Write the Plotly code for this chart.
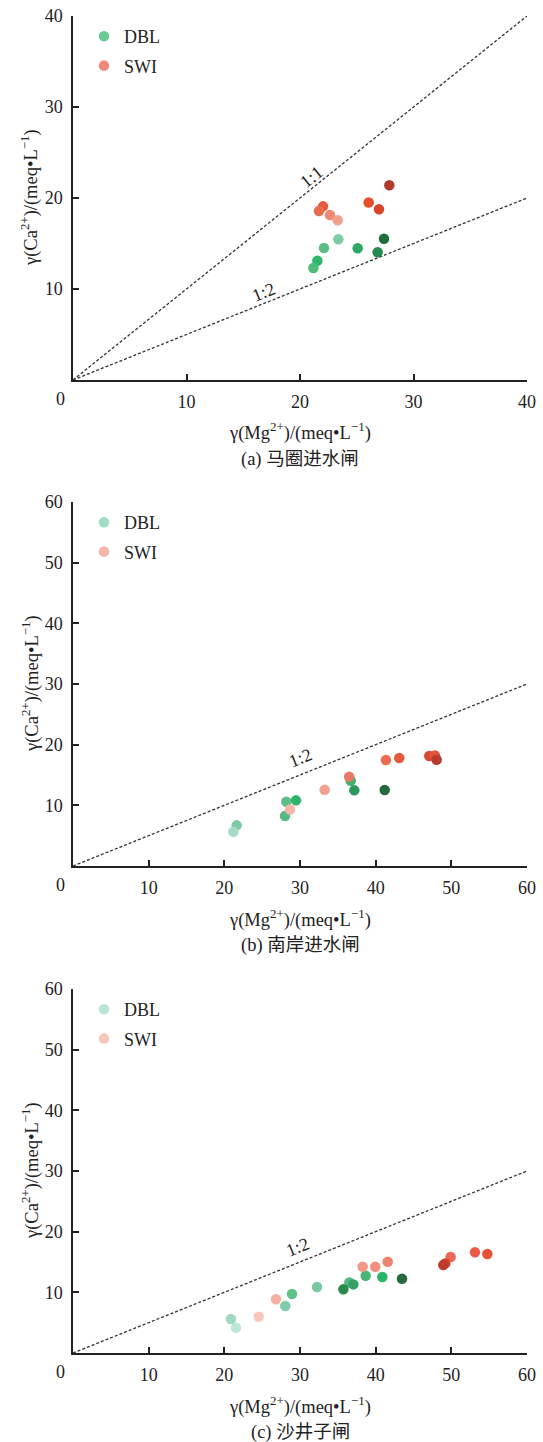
import math
import plotly.graph_objects as go

# ---- panel (a) 马圈进水闸 ----
a_dbl_x = [23.38, 22.11, 21.53, 21.18, 25.08, 26.84, 27.40]
a_dbl_y = [15.46, 14.50, 13.11, 12.31, 14.47, 14.03, 15.53]
a_dbl_c = ["#7DCCA2", "#5BBF85", "#2DB56A", "#4CBC7A", "#2EA862", "#258A4E", "#1F6E3E"]
a_swi_x = [27.87, 26.05, 26.96, 22.03, 21.67, 22.64, 23.32]
a_swi_y = [21.40, 19.50, 18.76, 19.08, 18.57, 18.13, 17.55]
a_swi_c = ["#B23A2E", "#E5502C", "#D7432B", "#E55A3E", "#EA6A50", "#EE8A74", "#F2A08C"]

# ---- panel (b) 南岸进水闸 ----
b_dbl_x = [21.63, 21.19, 28.19, 29.47, 28.02, 36.70, 37.18, 41.19]
b_dbl_y = [6.70, 5.65, 10.60, 10.82, 8.24, 14.06, 12.47, 12.52]
b_dbl_c = ["#7BCBA6", "#A6DCC6", "#5CC087", "#2EB468", "#55BB7E", "#40B070", "#2A9A58", "#246A3E"]
b_swi_x = [28.68, 33.26, 36.50, 41.36, 43.12, 47.08, 47.84, 48.06]
b_swi_y = [9.32, 12.57, 14.70, 17.46, 17.79, 18.12, 18.23, 17.51]
b_swi_c = ["#F4B6A8", "#F0A090", "#E57A66", "#EE6A50", "#E55A3E", "#D84A30", "#E0553A", "#B83A2E"]

# ---- panel (c) 沙井子闸 ----
c_dbl_x = [20.88, 21.54, 28.06, 28.94, 32.25, 36.52, 37.05, 35.73, 38.68, 40.88, 43.48]
c_dbl_y = [5.60, 4.17, 7.74, 9.72, 10.87, 11.64, 11.31, 10.49, 12.74, 12.52, 12.25]
c_dbl_c = ["#A0D8C0", "#C0E6D6", "#80CCA8", "#60C088", "#78C8A0", "#55B880", "#38A066",
           "#2A8A50", "#48B478", "#2AB468", "#246A3E"]
c_swi_x = [24.54, 26.83, 38.28, 39.95, 41.59, 49.91, 49.20, 48.94, 53.12, 54.76]
c_swi_y = [5.98, 8.85, 14.22, 14.22, 15.04, 15.82, 14.77, 14.50, 16.59, 16.31]
c_swi_c = ["#F8C8BA", "#F4B0A4", "#F09888", "#F09080", "#EE8470", "#EA6A55", "#D24030",
           "#C03A30", "#E85A45", "#E55038"]

# legend swatch colours per panel
legend_dbl = ["#6BC996", "#A0DCC4", "#B8E6D6"]
legend_swi = ["#EE8A78", "#F4B3A6", "#F7C5BA"]

# reference ratio lines (Ca : Mg) and where their labels sit (data units)
ratio_lines = [[("1:1", 1.0), ("1:2", 0.5)], [("1:2", 0.5)], [("1:2", 0.5)]]
ratio_label_pos = [[(21.0, 22.3), (16.8, 9.7)], [(30.0, 17.8)], [(29.7, 17.5)]]
axis_max = [40, 60, 60]
ticks = [[10, 20, 30, 40], [10, 20, 30, 40, 50, 60], [10, 20, 30, 40, 50, 60]]
captions = ["(a) 马圈进水闸", "(b) 南岸进水闸", "(c) 沙井子闸"]

W, H = 543, 1442
X0, X1 = 73, 527                      # plot area, px
Y_TOP = [16, 502, 989]
Y_BOT = [380, 866, 1353]

FONT = "Liberation Serif, Noto Sans CJK SC, serif"
TXT = "#222222"
FS = 18
FS_TITLE = 18.5

panels = [
    (a_dbl_x, a_dbl_y, a_dbl_c, a_swi_x, a_swi_y, a_swi_c),
    (b_dbl_x, b_dbl_y, b_dbl_c, b_swi_x, b_swi_y, b_swi_c),
    (c_dbl_x, c_dbl_y, c_dbl_c, c_swi_x, c_swi_y, c_swi_c),
]

fig = go.Figure()
annotations = []
layout_axes = {}


def px_x(p):
    return p / W


def px_y(p):
    return 1 - p / H


def paper_text(x, y, text, angle=0, size=FS_TITLE):
    return dict(x=px_x(x), y=px_y(y), xref="paper", yref="paper",
                xanchor="center", yanchor="middle", text=text,
                showarrow=False, textangle=angle,
                font=dict(family=FONT, size=size, color=TXT))


for i, (dx, dy, dc, sx, sy, sc) in enumerate(panels):
    n = "" if i == 0 else str(i + 1)
    xa, ya = "x" + n, "y" + n
    leg = "legend" + n
    m = axis_max[i]

    # dotted ratio lines through the origin
    for label, r in ratio_lines[i]:
        fig.add_trace(go.Scatter(
            x=[0, m], y=[0, r * m], xaxis=xa, yaxis=ya, mode="lines",
            line=dict(color="#333333", width=1.3, dash="3px,2px"),
            showlegend=False, hoverinfo="skip"))

    # sample points
    fig.add_trace(go.Scatter(
        x=dx, y=dy, xaxis=xa, yaxis=ya, mode="markers", name="DBL",
        marker=dict(size=10.5, color=dc, line=dict(width=0)),
        showlegend=False))
    fig.add_trace(go.Scatter(
        x=sx, y=sy, xaxis=xa, yaxis=ya, mode="markers", name="SWI",
        marker=dict(size=10.5, color=sc, line=dict(width=0)),
        showlegend=False))

    # legend entries
    for name, col in (("DBL", legend_dbl[i]), ("SWI", legend_swi[i])):
        fig.add_trace(go.Scatter(
            x=[None], y=[None], xaxis=xa, yaxis=ya, mode="markers", name=name,
            marker=dict(size=10.5, color=col), legend=leg, legendgroup=name + n,
            showlegend=True))

    ax_common = dict(
        range=[0, m], showgrid=False, zeroline=False, showline=True,
        linecolor="#222222", linewidth=1.5, ticks="inside", ticklen=6,
        tickwidth=1.5, tickcolor="#222222", tickvals=ticks[i],
        ticktext=[str(t) for t in ticks[i]],
        tickfont=dict(family=FONT, size=FS, color=TXT),
        fixedrange=True, ticklabelstandoff=5, automargin=False)
    layout_axes["xaxis" + n] = dict(
        ax_common, domain=[px_x(X0), px_x(X1)], anchor=ya)
    layout_axes["yaxis" + n] = dict(
        ax_common, domain=[px_y(Y_BOT[i]), px_y(Y_TOP[i])], anchor=xa)

    layout_axes[leg] = dict(
        x=px_x(84), y=px_y(Y_TOP[i] + 2), xanchor="left", yanchor="top",
        bgcolor="rgba(0,0,0,0)", font=dict(family=FONT, size=FS, color=TXT),
        tracegroupgap=3, itemwidth=30)

    # ratio line labels, rotated along their lines
    xs = (X1 - X0) / m
    ys = (Y_BOT[i] - Y_TOP[i]) / m
    for (label, r), (lx, ly) in zip(ratio_lines[i], ratio_label_pos[i]):
        ang = math.degrees(math.atan(r * ys / xs))
        annotations.append(dict(
            x=lx, y=ly, xref=xa, yref=ya, text=label, showarrow=False,
            xanchor="center", yanchor="middle", textangle=-ang,
            font=dict(family=FONT, size=FS, color=TXT)))

    # corner zero, axis titles and caption
    annotations.append(paper_text(60, Y_BOT[i] + 19, "0", size=FS))
    annotations.append(paper_text((X0 + X1) / 2, Y_BOT[i] + 52,
                                  "γ(Mg<sup>2+</sup>)/(meq•L<sup>−1</sup>)"))
    annotations.append(paper_text(30, (Y_TOP[i] + Y_BOT[i]) / 2,
                                  "γ(Ca<sup>2+</sup>)/(meq•L<sup>−1</sup>)", -90))
    annotations.append(paper_text((X0 + X1) / 2, Y_BOT[i] + 79, captions[i]))

fig.update_layout(
    width=W, height=H, margin=dict(l=0, r=0, t=0, b=0),
    paper_bgcolor="white", plot_bgcolor="white",
    annotations=annotations, **layout_axes)

fig.write_html("out.html")
